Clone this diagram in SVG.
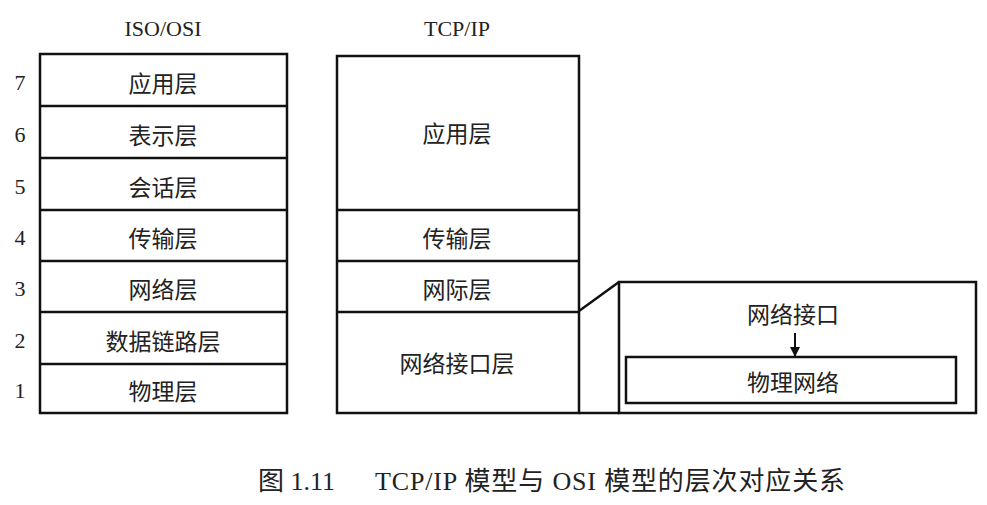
<svg xmlns="http://www.w3.org/2000/svg" width="987" height="505" viewBox="0 0 987 505">
<defs>
<style>
.b{fill:none;stroke:#111;stroke-width:2.5}
.t{font-family:"Noto Sans CJK SC","Liberation Serif",serif;font-size:23px;fill:#222;text-anchor:middle;dominant-baseline:central}
.s{font-family:"Liberation Serif",serif;font-size:22px;fill:#222;text-anchor:middle;dominant-baseline:central}
.c{font-family:"Liberation Serif","Noto Sans CJK SC",serif;font-size:26px;fill:#222;dominant-baseline:central}
</style>
<marker id="a" viewBox="0 0 10 10" refX="9" refY="5" markerWidth="5" markerHeight="8" orient="auto"><path d="M0,0L10,5L0,10z" fill="#111"/></marker>
</defs>
<rect width="987" height="505" fill="#fff"/>
<text class="s" x="163" y="28">ISO/OSI</text>
<text class="s" x="457" y="28">TCP/IP</text>
<g id="osi">
<rect class="b" x="40" y="54" width="247" height="359"/>
<path class="b" d="M40 106H287M40 158H287M40 210H287M40 261H287M40 312H287M40 364H287"/>
<text class="s" x="20" y="82">7</text><text class="t" x="163" y="82">应用层</text>
<text class="s" x="20" y="134">6</text><text class="t" x="163" y="134">表示层</text>
<text class="s" x="20" y="186">5</text><text class="t" x="163" y="186">会话层</text>
<text class="s" x="20" y="237">4</text><text class="t" x="163" y="237">传输层</text>
<text class="s" x="20" y="288">3</text><text class="t" x="163" y="288">网络层</text>
<text class="s" x="20" y="340">2</text><text class="t" x="163" y="340">数据链路层</text>
<text class="s" x="20" y="390">1</text><text class="t" x="163" y="390">物理层</text>
</g>
<g id="tcpip">
<rect class="b" x="337" y="56" width="242" height="357"/>
<path class="b" d="M337 210H579M337 261H579M337 312H579"/>
<text class="t" x="457" y="132">应用层</text>
<text class="t" x="457" y="237">传输层</text>
<text class="t" x="457" y="288">网际层</text>
<text class="t" x="457" y="362">网络接口层</text>
</g>
<g id="detail">
<rect class="b" x="619" y="282" width="357" height="131"/>
<rect class="b" x="626" y="357" width="330" height="46"/>
<text class="t" x="793" y="313">网络接口</text>
<text class="t" x="793" y="381">物理网络</text>
</g>
<g id="connectors">
<path class="b" d="M579 311L619 282M579 413H619"/>
<path d="M795 333V356" stroke="#111" stroke-width="2" fill="none" marker-end="url(#a)"/>
</g>
<text class="c" x="258" y="481">图 1.11</text>
<text class="c" x="375" y="481" textLength="470" lengthAdjust="spacing">TCP/IP 模型与 OSI 模型的层次对应关系</text>
</svg>
